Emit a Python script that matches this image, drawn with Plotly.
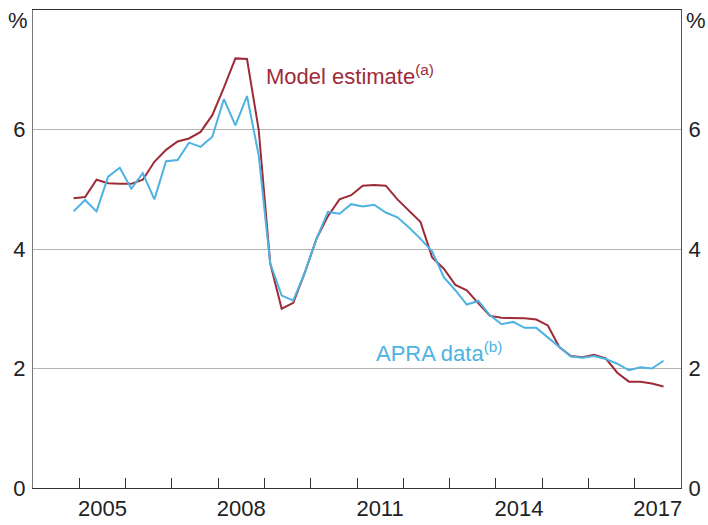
import pandas as pd
import plotly.graph_objects as go

# quarterly observations, Dec 2004 to Sep 2017
quarters = pd.period_range("2004Q4", "2017Q3", freq="Q")

model_estimate = [4.85, 4.87, 5.16, 5.10, 5.09, 5.09, 5.16, 5.46, 5.66, 5.80,
                  5.85, 5.96, 6.24, 6.70, 7.19, 7.18, 6.00, 3.76, 3.00, 3.10,
                  3.61, 4.17, 4.55, 4.83, 4.90, 5.06, 5.07, 5.06, 4.83, 4.64,
                  4.45, 3.86, 3.67, 3.40, 3.31, 3.09, 2.88, 2.85, 2.85, 2.84,
                  2.82, 2.72, 2.36, 2.21, 2.19, 2.23, 2.17, 1.93, 1.78, 1.78,
                  1.75, 1.70]

apra_data = [4.63, 4.82, 4.63, 5.21, 5.36, 5.01, 5.27, 4.83, 5.47, 5.49,
             5.78, 5.71, 5.88, 6.51, 6.07, 6.56, 5.57, 3.76, 3.22, 3.14,
             3.61, 4.17, 4.62, 4.59, 4.75, 4.71, 4.74, 4.61, 4.53, 4.36,
             4.17, 3.96, 3.53, 3.31, 3.07, 3.13, 2.89, 2.74, 2.78, 2.68,
             2.68, 2.52, 2.35, 2.20, 2.18, 2.21, 2.16, 2.08, 1.97, 2.02,
             2.00, 2.13]

year_labels = ["2005", "2008", "2011", "2014", "2017"]
y_ticks = [0, 2, 4, 6]

# plot each quarter at its midpoint
dates = [q.start_time + (q.end_time - q.start_time) / 2 for q in quarters]

RED = "#9e2b38"
BLUE = "#4cb3e2"
FONT = "Arial, Liberation Sans, sans-serif"
X_RANGE = ["2004-01-01", "2018-01-01"]

fig = go.Figure()
fig.add_trace(go.Scatter(x=dates, y=model_estimate, mode="lines",
                         line=dict(color=RED, width=2), name="Model estimate"))
fig.add_trace(go.Scatter(x=dates, y=apra_data, mode="lines",
                         xaxis="x2", yaxis="y2",
                         line=dict(color=BLUE, width=2), name="APRA data"))

fig.update_layout(
    width=708, height=525,
    margin=dict(l=33, r=27, t=10, b=37),
    plot_bgcolor="white", paper_bgcolor="white",
    showlegend=False,
    font=dict(family=FONT, size=22, color="#222222"),
    # year boundary ticks
    xaxis=dict(
        range=X_RANGE, tickmode="linear", tick0="2004-01-01", dtick="M12",
        ticks="inside", ticklen=10, tickcolor="#333333", tickwidth=1,
        showticklabels=False, automargin=False,
        showgrid=False, zeroline=False,
        showline=True, linecolor="#333333", linewidth=1.3, mirror=True,
    ),
    # year labels centred in each year
    xaxis2=dict(
        range=X_RANGE, overlaying="x", side="bottom", anchor="y",
        tickmode="array",
        tickvals=[pd.Timestamp(f"{y}-07-02") for y in year_labels],
        ticktext=year_labels,
        ticks="", ticklabelstandoff=5, automargin=False,
        showgrid=False, zeroline=False, showline=False,
    ),
    yaxis=dict(
        range=[0, 8], tickvals=y_ticks, ticks="", automargin=False,
        ticklabelstandoff=2,
        showgrid=True, gridcolor="#b3b3b3", gridwidth=1,
        zeroline=False, showline=True, linecolor="#777777", linewidth=1.3,
    ),
    yaxis2=dict(
        range=[0, 8], tickvals=y_ticks, ticks="", overlaying="y", side="right",
        anchor="x", automargin=False, ticklabelstandoff=2,
        showgrid=False, zeroline=False, showline=True,
        linecolor="#555555", linewidth=1.3,
    ),
)

fig.add_annotation(text="%", xref="paper", yref="paper", x=-0.004, y=0.978,
                   xanchor="right", yanchor="middle", showarrow=False)
fig.add_annotation(text="%", xref="paper", yref="paper", x=1.004, y=0.978,
                   xanchor="left", yanchor="middle", showarrow=False)
fig.add_annotation(text="Model estimate<sup>(a)</sup>", xref="paper", yref="paper",
                   x=0.356, y=0.863, xanchor="left", yanchor="middle",
                   showarrow=False, font=dict(color=RED, size=22))
fig.add_annotation(text="APRA data<sup>(b)</sup>", xref="paper", yref="paper",
                   x=0.527, y=0.285, xanchor="left", yanchor="middle",
                   showarrow=False, font=dict(color=BLUE, size=22))

# drop the browser's default page margin so the chart sits at the top-left corner
fig.write_html("out.html", config={"displayModeBar": False},
               post_script="document.body.style.margin = '0';")
